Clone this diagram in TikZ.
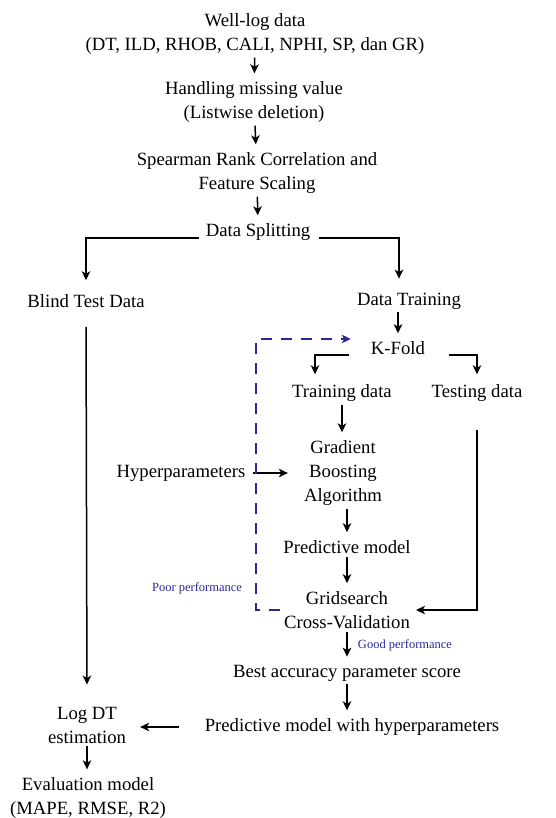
\documentclass[tikz,border=0pt]{standalone}
\usepackage{fontspec}
\setmainfont{Liberation Serif}
\usetikzlibrary{arrows.meta,calc}
\definecolor{perf}{RGB}{40,40,150}
\begin{document}
\begin{tikzpicture}[x=1pt,y=-1pt,
  lbl/.style={inner sep=0pt,align=center,font=\fontsize{18.7}{24}\selectfont},
  note/.style={inner sep=0pt,font=\fontsize{12.5}{14}\selectfont,text=perf},
  tip/.style={-{Stealth[length=9pt,width=8.5pt,inset=2.5pt]}},
  flow/.style={draw,line width=1.5pt,tip,shorten <=3pt,shorten >=8pt},
  wire/.style={draw,line width=1.5pt,tip},
  feedback/.style={draw=perf,line width=1.5pt,dash pattern=on 11pt off 9pt,
    -{Stealth[length=9pt,width=8.5pt,inset=2.5pt]}}
]
\useasboundingbox[fill=white] (0,0) rectangle (555,818);

% main chain of processing steps
\node[lbl] (wl)  at (255,34)  {Well-log data\\(DT, ILD, RHOB, CALI, NPHI, SP, dan GR)};
\node[lbl] (hm)  at (254,102) {Handling missing value\\(Listwise deletion)};
\node[lbl] (sp)  at (257,173) {Spearman Rank Correlation and\\Feature Scaling};
\node[lbl] (ds)  at (258,232) {Data Splitting};
\node[lbl] (bt)  at (86,301)  {Blind Test Data};
\node[lbl] (dt)  at (409,301) {Data Training};
\node[lbl] (kf)  at (398,348) {K-Fold};
\node[lbl] (trd) at (342,393) {Training data};
\node[lbl] (ted) at (477,393) {Testing data};
\node[lbl] (gb)  at (343,473) {Gradient\\Boosting\\Algorithm};
\node[lbl] (hp)  at (181,473) {Hyperparameters};
\node[lbl] (pm)  at (347,547) {Predictive model};
\node[lbl] (gs)  at (347,610) {Gridsearch\\Cross-Validation};
\node[lbl] (ba)  at (347,673) {Best accuracy parameter score};
\node[lbl] (pmh) at (352,727) {Predictive model with hyperparameters};
\node[lbl] (ldt) at (87,725)  {Log DT\\estimation};
\node[lbl] (ev)  at (88,798)  {Evaluation model\\(MAPE, RMSE, R2)};

% performance annotations
\node[note] (poor) at (197,588) {Poor performance};
\node[note] (good) at (405,645) {Good performance};

% vertical flow arrows
\path[flow] (wl) -- (hm);
\path[flow] (hm) -- (sp);
\path[flow] (sp) -- (ds);
\path[flow] (dt.south-|kf.north) -- (kf.north);
\path[flow] (trd.south) -- (trd.south|-gb.north);
\path[flow] (gb.south-|pm.north) -- (pm.north);
\path[flow] (pm) -- (gs);
\path[flow] (gs) -- (ba);
\path[flow] (ba.south) -- (ba.south|-pmh.north);
\path[flow] (ldt.south) -- (ldt.south|-ev.north);

% split into blind test and training branches
\path[wire] ([xshift=-7pt,yshift=-6pt]ds.west) -| ([yshift=14pt]bt.north);
\path[wire] ([xshift=9pt,yshift=-6pt]ds.east) -| ([xshift=-10pt,yshift=14pt]dt.north);

% k-fold branches
\path[wire] ([xshift=-22pt,yshift=-7pt]kf.west) -| ([xshift=-27pt,yshift=10pt]trd.north);
\path[wire] ([xshift=24pt,yshift=-7pt]kf.east) -| ([yshift=10pt]ted.north);

% testing data into grid search
\path[wire,shorten <=28pt,shorten >=6pt] (ted.south) |- (gs.east);

% hyperparameters into the algorithm
\path[wire,shorten <=7pt,shorten >=16pt] (hp.east) -- (hp.east-|gb.west);

% blind test data to the estimate
\path[wire,shorten <=19pt,shorten >=22pt] (bt.south) -- (ldt.north);
\path[wire,shorten <=26pt,shorten >=14pt] (pmh.west) -- (pmh.west-|ldt.east);

% retuning loop on poor performance
\path[feedback,shorten <=4pt,shorten >=20pt] (gs.west) -- ++(-28,0) |- ([yshift=9pt]kf.west);
\end{tikzpicture}
\end{document}
